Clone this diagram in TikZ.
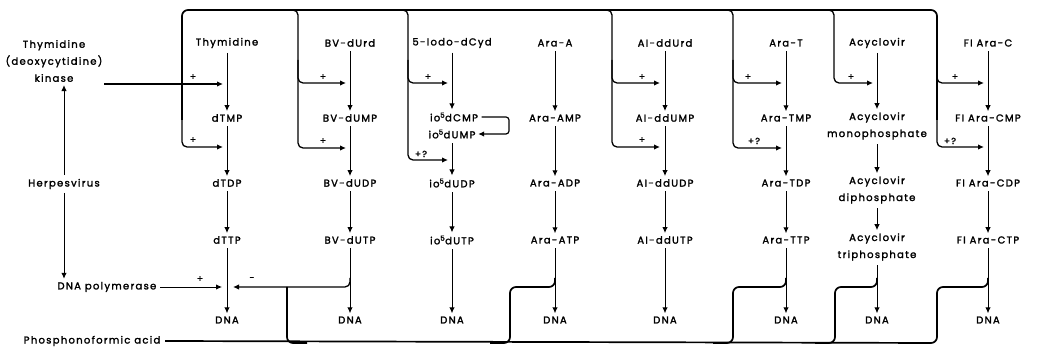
\documentclass[tikz,border=0pt]{standalone}
\usepackage{fontspec}
\setmainfont{Poppins}[LetterSpace=13, FakeBold=2]
\usetikzlibrary{arrows.meta}
\newcommand{\lblfont}{\fontsize{10}{17}\selectfont}
\newcommand{\sgnfont}{\fontsize{9}{10}\selectfont}
\newcommand{\io}{io\textsuperscript{5}d}
\tikzset{
  lbl/.style={font=\lblfont, inner sep=1.5pt, align=center},
  sgn/.style={font=\sgnfont, inner sep=0pt},
  tip/.style={-{Latex[length=6pt,width=5.5pt]}},
  arr/.style={tip, line width=1pt, shorten <=3pt, shorten >=1.5pt},
  feed/.style={tip, line width=1.3pt, rounded corners=5pt},
  bus/.style={line width=1.7pt, rounded corners=6pt},
}
\begin{document}
\begin{tikzpicture}[x=1pt, y=-1pt, line join=round]
\useasboundingbox (0,0) rectangle (1041,355);

% ---------- left-hand labels ----------
\node[lbl] (kin) at (54,61) {Thymidine\\(deoxycytidine)\\kinase};
\node[lbl] (hv)  at (64,184) {Herpesvirus};
\node[lbl, anchor=east] (pol) at (158,287) {DNA polymerase};
\node[lbl, anchor=east] (pfa) at (162,341) {Phosphonoformic acid};

% ---------- column 1: thymidine ----------
\node[lbl] (t0) at (227,43)  {Thymidine};
\node[lbl] (t1) at (227,118) {dTMP};
\node[lbl] (t2) at (227,183) {dTDP};
\node[lbl] (t3) at (227,240) {dTTP};
\node[lbl] (t4) at (227,320) {DNA};
% ---------- column 2: BV-dUrd ----------
\node[lbl] (b0) at (350,43)  {BV-dUrd};
\node[lbl] (b1) at (350,118) {BV-dUMP};
\node[lbl] (b2) at (350,183) {BV-dUDP};
\node[lbl] (b3) at (350,240) {BV-dUTP};
\node[lbl] (b4) at (350,320) {DNA};
% ---------- column 3: 5-iodo-dCyd ----------
\node[lbl] (i0) at (452,43)  {5-Iodo-dCyd};
\node[lbl] (i1) at (454,117) {\io CMP};
\node[lbl] (i1b) at (452,134) {\io UMP};
\node[lbl] (i2) at (452,183) {\io UDP};
\node[lbl] (i3) at (452,240) {\io UTP};
\node[lbl] (i4) at (452,320) {DNA};
% ---------- column 4: Ara-A ----------
\node[lbl] (a0) at (555,43)  {Ara-A};
\node[lbl] (a1) at (555,118) {Ara-AMP};
\node[lbl] (a2) at (555,183) {Ara-ADP};
\node[lbl] (a3) at (555,240) {Ara-ATP};
\node[lbl] (a4) at (555,320) {DNA};
% ---------- column 5: AI-ddUrd ----------
\node[lbl] (d0) at (665,43)  {AI-ddUrd};
\node[lbl] (d1) at (665,118) {AI-ddUMP};
\node[lbl] (d2) at (665,183) {AI-ddUDP};
\node[lbl] (d3) at (665,240) {AI-ddUTP};
\node[lbl] (d4) at (665,320) {DNA};
% ---------- column 6: Ara-T ----------
\node[lbl] (r0) at (786,43)  {Ara-T};
\node[lbl] (r1) at (786,118) {Ara-TMP};
\node[lbl] (r2) at (786,183) {Ara-TDP};
\node[lbl] (r3) at (786,240) {Ara-TTP};
\node[lbl] (r4) at (786,320) {DNA};
% ---------- column 7: acyclovir ----------
\node[lbl] (y0) at (877,43)  {Acyclovir};
\node[lbl] (y1) at (877,126) {Acyclovir\\monophosphate};
\node[lbl] (y2) at (877,190) {Acyclovir\\diphosphate};
\node[lbl] (y3) at (877,247) {Acyclovir\\triphosphate};
\node[lbl] (y4) at (877,320) {DNA};
% ---------- column 8: FI Ara-C ----------
\node[lbl] (f0) at (988,43)  {FI Ara-C};
\node[lbl] (f1) at (988,118) {FI Ara-CMP};
\node[lbl] (f2) at (988,183) {FI Ara-CDP};
\node[lbl] (f3) at (988,240) {FI Ara-CTP};
\node[lbl] (f4) at (988,320) {DNA};

% ---------- phosphorylation steps ----------
\foreach \c in {t,b,a,d,r,y,f}{
  \draw[arr] (\c0) -- (\c1);
  \draw[arr] (\c1) -- (\c2);
  \draw[arr] (\c2) -- (\c3);
  \draw[arr] (\c3) -- (\c4);
}
\draw[arr] (i0) -- (i0 |- i1.north);
\draw[arr] (i1b.south -| i0) -- (i2);
\draw[arr] (i2) -- (i3);
\draw[arr] (i3) -- (i4);
% deamination of the monophosphate
\draw[tip, line width=1.2pt, rounded corners=3pt]
  ([xshift=2pt]i1.east) -- (509,117) -- (509,134) -- ([xshift=1pt]i1b.east);

% ---------- kinase feed points on each column ----------
\coordinate (kt1) at (223,84);  \coordinate (kt2) at (223,147);
\coordinate (kb1) at (346,83);  \coordinate (kb2) at (346,148);
\coordinate (ki1) at (448,83);  \coordinate (ki2) at (448,160);
\coordinate (kd1) at (660,83);  \coordinate (kd2) at (660,147);
\coordinate (kr1) at (782,83);  \coordinate (kr2) at (782,148);
\coordinate (ky1) at (873,83);
\coordinate (kf1) at (984,83);  \coordinate (kf2) at (984,147);

% upper bus from the kinase
\draw[bus] (182,120) -- (182,10) -- (937,10) -- (937,120);
\draw[feed] (kin.east |- kt1) -- (kt1);
\draw[feed] (182,120) -- (182,147) -- (kt2);
\draw[feed] (937,60) -- (937,83) -- (kf1);
\draw[feed] (937,120) -- (937,147) -- (kf2);
\foreach \bx/\k/\lo in {298/b/148, 408/i/160, 612/d/147, 733/r/148}{
  \draw[feed] (\bx-20,10) -- (\bx,10) -- (\bx,\lo) -- (k\k2);
  \draw[feed] (\bx,60) -- (\bx,83) -- (k\k1);
}
\draw[feed] (814,10) -- (834,10) -- (834,83) -- (ky1);

% signs on the kinase arrows
\node[sgn] at (193,77)  {+};  \node[sgn] at (193,140) {+};
\node[sgn] at (323,77)  {+};  \node[sgn] at (323,141) {+};
\node[sgn] at (428,77)  {+};  \node[sgn] at (421,154) {+?};
\node[sgn] at (642,77)  {+};  \node[sgn] at (642,140) {+};
\node[sgn] at (748,77)  {+};  \node[sgn] at (754,141) {+?};
\node[sgn] at (851,77)  {+};
\node[sgn] at (955,77)  {+};  \node[sgn] at (950,141) {+?};

% ---------- virus-coded enzymes ----------
\draw[arr, shorten <=2pt] (hv.north) -- (hv.north |- kin.south);
\draw[arr, shorten <=2pt] (hv.south) -- (hv.south |- pol.north);
\coordinate (pt) at (222,287);
\coordinate (nt) at (233,287);
\draw[tip, line width=0.9pt] ([xshift=2pt]pol.east) -- (pt);
\node[sgn] at (200,279) {+};
\draw[feed] (350,278) -- (350,287) -- (nt);
\node[sgn] at (252,279) {-};

% ---------- phosphonoformic acid ----------
\draw[bus] ([xshift=3pt]pfa.east) -- (937,343) -- (937,287) -- (988,287) -- (988,278);
\draw[bus] (287,287) -- (287,343) -- (307,343);
\draw[bus] (490,343) -- (510,343) -- (510,287) -- (555,287) -- (555,278);
\draw[bus] (713,343) -- (733,343) -- (733,287) -- (786,287) -- (786,278);
\draw[bus] (815,343) -- (835,343) -- (835,287) -- (877,287) -- (877,278);
\end{tikzpicture}
\end{document}
